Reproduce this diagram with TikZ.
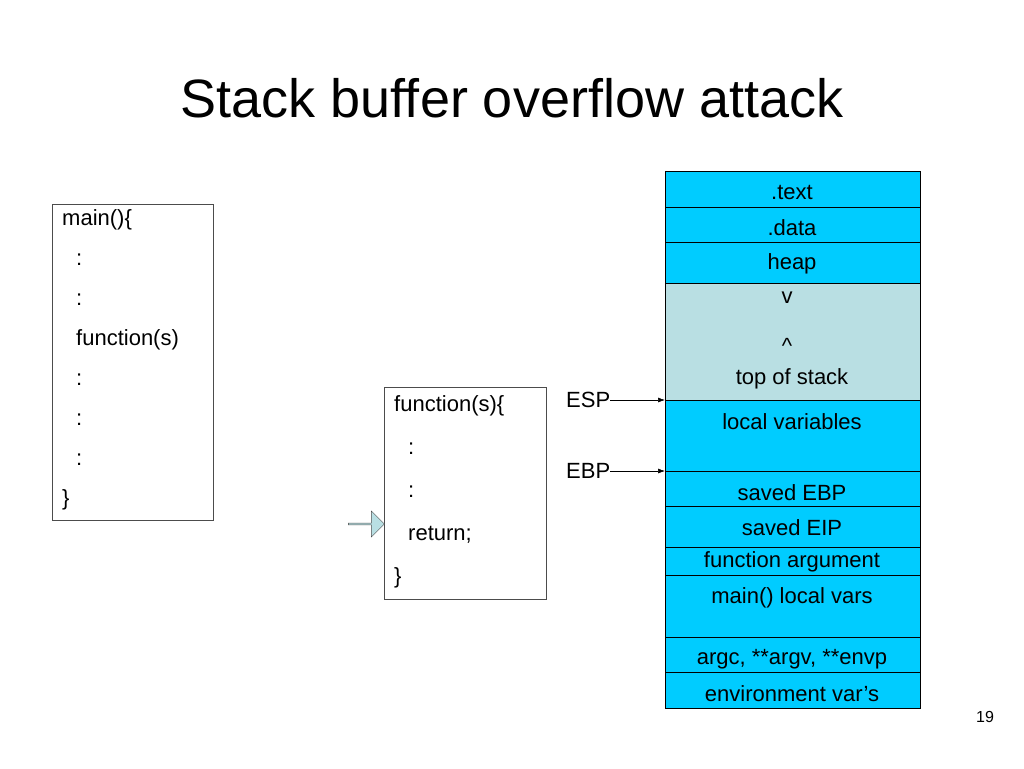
\documentclass[tikz,border=0pt]{standalone}
\usepackage{fontspec}
\setmainfont{Liberation Sans}
\usetikzlibrary{arrows.meta,shapes.arrows}
\definecolor{seg}{HTML}{00CCFF}
\definecolor{gap}{HTML}{B9DFE3}
\begin{document}
\begin{tikzpicture}[x=1pt,y=-1pt,
  txt/.style={font=\fontsize{22}{24}\selectfont, inner sep=0pt},
  seg/.style={draw=black, fill=seg, line width=0.8pt},
  ptr/.style={-{Latex[length=7pt,width=5pt]}, line width=0.6pt}]
\useasboundingbox (0,0) rectangle (1024,768);
\node[font=\fontsize{54}{60}\selectfont, inner sep=0pt] (title) at (512,98) {Stack buffer overflow attack};
% left box
\draw[draw=black!70, line width=0.8pt] (52,204) rectangle (213,520);
\foreach \t/\xx/\yy [count=\i] in {main()\{/62/220, :/76/260, :/76/300, function(s)/76/340, :/76/380, :/76/420, :/76/460, \}/62/500}
  \node[txt, anchor=west] (m\i) at (\xx,\yy) {\t};
% function box
\draw[draw=black!70, line width=0.8pt] (384,387) rectangle (546,599);
\foreach \t/\xx/\yy [count=\i] in {function(s)\{/394/406, :/408/449, :/408/492, return;/408/535, \}/394/578}
  \node[txt, anchor=west] (f\i) at (\xx,\yy) {\t};
\node[single arrow, draw=black!70, fill=gap, minimum height=36pt, minimum width=26pt, single arrow head extend=3pt, inner sep=0pt] (blk) at (366,524) {};
% stack
\foreach \a/\b/\t [count=\i] in {171/207/.text, 207/242/.data, 242/283/heap, 400/471/{}, 471/506/saved EBP, 506/547/saved EIP, 547/575/function argument, 575/637/{}, 637/672/{argc, **argv, **envp}, 672/708/environment var’s}
  \draw[seg] (665,\a) rectangle (920,\b);
\draw[draw=black, fill=gap, line width=0.8pt] (665,283) rectangle (920,400);
\node[txt] (s1) at (792,192) {.text};
\node[txt] (s2) at (792,228) {.data};
\node[txt] (s3) at (792,264) {heap};
\node[txt] (v) at (787,298) {v};
\node[txt] (caret) at (787,346) {\textasciicircum};
\node[txt] (tos) at (792,379) {top of stack};
\node[txt] (lv) at (792,422) {local variables};
\node[txt] (sebp) at (792,493) {saved EBP};
\node[txt] (seip) at (792,528) {saved EIP};
\node[txt] (farg) at (792,562) {function argument};
\node[txt] (mlv) at (792,598) {main() local vars};
\node[txt] (argc) at (792,659) {argc, **argv, **envp};
\node[txt] (env) at (792,694) {environment var’s};
\coordinate (espT) at (665,400);
\coordinate (ebpT) at (665,471);
\node[txt, anchor=west] (esp) at (566,400) {ESP};
\node[txt, anchor=west] (ebp) at (566,471) {EBP};
\draw[ptr] (esp.east) -- (espT);
\draw[ptr] (ebp.east) -- (ebpT);
\node[font=\fontsize{16}{18}\selectfont, inner sep=0pt] (pg) at (985,717) {19};
\end{tikzpicture}
\end{document}
